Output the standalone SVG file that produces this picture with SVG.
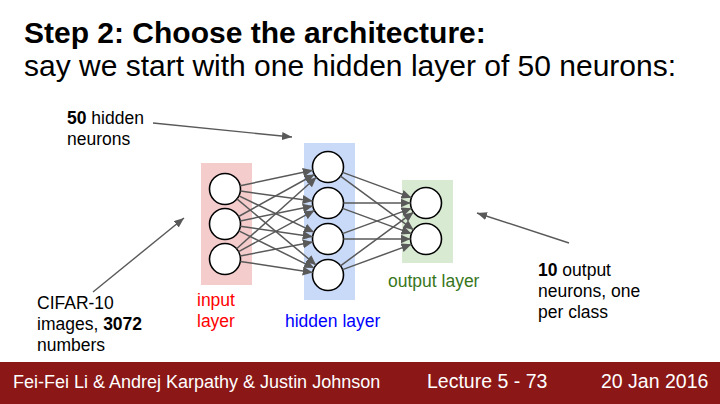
<svg xmlns="http://www.w3.org/2000/svg" width="720" height="404" viewBox="0 0 720 404">
<style>
text{font-family:"Liberation Sans",Arial,sans-serif;}
.t{font-size:30px;fill:#000;}
.lbl{font-size:17.5px;fill:#000;}
.neuron{fill:#fff;stroke:#000;stroke-width:1.6;}
.edge{stroke:#595959;stroke-width:1.5;fill:none;marker-end:url(#ah);}
.note{stroke:#595959;stroke-width:1.4;fill:none;marker-end:url(#ah2);}
.foot{font-size:18px;fill:#fff;}
</style>
<defs>
<marker id="ah" markerUnits="userSpaceOnUse" markerWidth="11" markerHeight="9" refX="10" refY="4.5" orient="auto">
<path d="M0,0 L10,4.5 L0,9 z" fill="#595959"/>
</marker>
<marker id="ah2" markerUnits="userSpaceOnUse" markerWidth="11" markerHeight="9" refX="10" refY="4" orient="auto">
<path d="M0,0 L10,4 L0,8 z" fill="#595959"/>
</marker>
</defs>
<rect width="720" height="404" fill="#fff"/>
<text class="t" x="24" y="43" font-weight="bold">Step 2: Choose the architecture:</text>
<text class="t" x="24" y="76">say we start with one hidden layer of 50 neurons:</text>

<g id="input-layer">
<rect x="201" y="163" width="51" height="122" fill="#f4cccc"/>
<circle class="neuron" cx="225" cy="189" r="15.5"/>
<circle class="neuron" cx="225" cy="224" r="15.5"/>
<circle class="neuron" cx="225" cy="259" r="15.5"/>
</g>
<g id="hidden-layer">
<rect x="304" y="143" width="51" height="157" fill="#c9daf8"/>
<circle class="neuron" cx="328" cy="167" r="15.5"/>
<circle class="neuron" cx="328" cy="203" r="15.5"/>
<circle class="neuron" cx="328" cy="239" r="15.5"/>
<circle class="neuron" cx="328" cy="275" r="15.5"/>
</g>
<g id="output-layer">
<rect x="402" y="180" width="51" height="83" fill="#d9ead3"/>
<circle class="neuron" cx="426" cy="203" r="15.5"/>
<circle class="neuron" cx="426" cy="239" r="15.5"/>
</g>

<g id="connectors">
<line class="edge" x1="240.2" y1="185.8" x2="312.8" y2="170.2"/>
<line class="edge" x1="240.4" y1="191.1" x2="312.6" y2="200.9"/>
<line class="edge" x1="239.0" y1="195.8" x2="314.0" y2="232.2"/>
<line class="edge" x1="236.9" y1="198.9" x2="316.1" y2="265.1"/>
<line class="edge" x1="238.6" y1="216.5" x2="314.4" y2="174.5"/>
<line class="edge" x1="240.2" y1="220.9" x2="312.8" y2="206.1"/>
<line class="edge" x1="240.3" y1="226.2" x2="312.7" y2="236.8"/>
<line class="edge" x1="238.9" y1="230.9" x2="314.1" y2="268.1"/>
<line class="edge" x1="236.6" y1="248.7" x2="316.4" y2="177.3"/>
<line class="edge" x1="238.6" y1="251.6" x2="314.4" y2="210.4"/>
<line class="edge" x1="240.2" y1="256.0" x2="312.8" y2="242.0"/>
<line class="edge" x1="240.3" y1="261.4" x2="312.7" y2="272.6"/>
<line class="edge" x1="342.55" y1="172.34" x2="411.45" y2="197.66"/>
<line class="edge" x1="343.5" y1="203" x2="410.5" y2="203"/>
<line class="edge" x1="342.55" y1="233.66" x2="411.45" y2="208.34"/>
<line class="edge" x1="340.49" y1="265.82" x2="413.51" y2="212.18"/>
<line class="edge" x1="340.49" y1="176.18" x2="413.51" y2="229.82"/>
<line class="edge" x1="342.55" y1="208.34" x2="411.45" y2="233.66"/>
<line class="edge" x1="343.5" y1="239" x2="410.5" y2="239"/>
<line class="edge" x1="342.55" y1="269.66" x2="411.45" y2="244.34"/>
<line class="note" x1="153" y1="123" x2="292" y2="137"/>
<line class="note" x1="93" y1="292" x2="184" y2="218"/>
<line class="note" x1="569" y1="243" x2="477" y2="213"/>
</g>

<g id="labels">
<text class="lbl" x="197" y="306" style="fill:#ff0000">input</text>
<text class="lbl" x="197" y="327" style="fill:#ff0000">layer</text>
<text class="lbl" x="285" y="327" style="fill:#0000ff">hidden layer</text>
<text class="lbl" x="388" y="287" style="fill:#38761d">output layer</text>
</g>
<g id="note-hidden">
<text class="lbl" x="67" y="124"><tspan font-weight="bold">50</tspan> hidden</text>
<text class="lbl" x="67" y="145">neurons</text>
</g>
<g id="note-input">
<text class="lbl" x="37" y="309">CIFAR-10</text>
<text class="lbl" x="37" y="330">images, <tspan font-weight="bold">3072</tspan></text>
<text class="lbl" x="37" y="351">numbers</text>
</g>
<g id="note-output">
<text class="lbl" x="538" y="276"><tspan font-weight="bold">10</tspan> output</text>
<text class="lbl" x="538" y="297">neurons, one</text>
<text class="lbl" x="538" y="318">per class</text>
</g>

<g id="footer">
<rect x="0" y="362" width="720" height="42" fill="#8b1717"/>
<text class="foot" x="13" y="388">Fei-Fei Li &amp; Andrej Karpathy &amp; Justin Johnson</text>
<text class="foot" x="427" y="388" style="font-size:19.5px">Lecture 5 - 73</text>
<text class="foot" x="601" y="388" style="font-size:19.5px">20 Jan 2016</text>
</g>
</svg>
